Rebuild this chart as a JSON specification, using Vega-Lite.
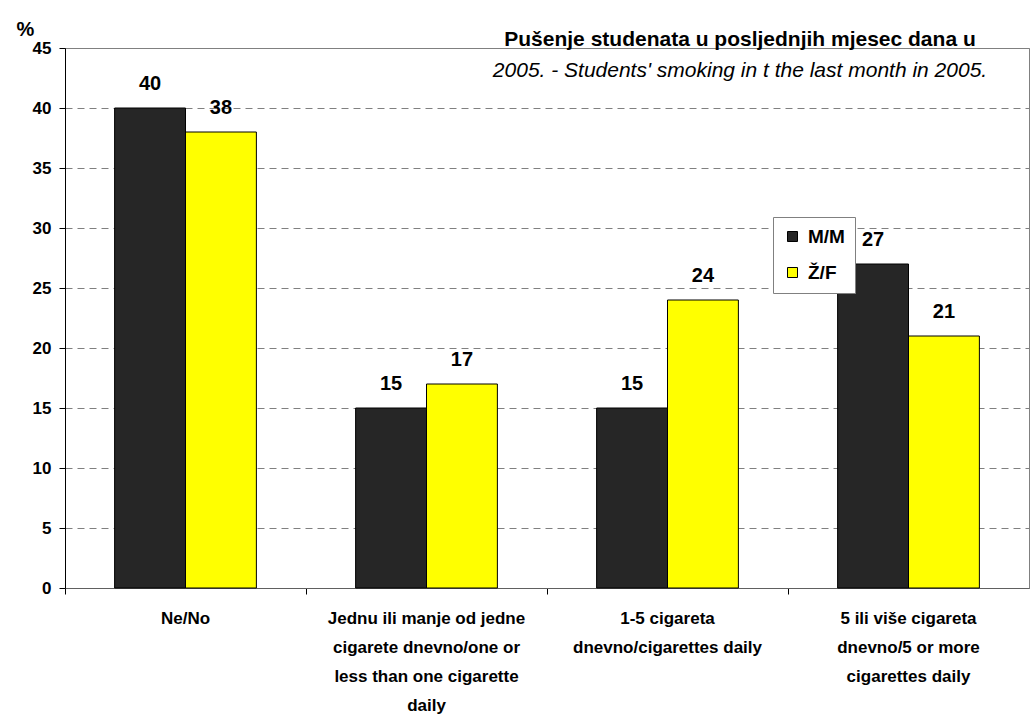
{
  "$schema": "https://vega.github.io/schema/vega-lite/v6.json",
  "width": 964,
  "height": 540,
  "autosize": {"type": "none"},
  "padding": {"left": 65, "top": 48, "right": 2, "bottom": 127},
  "background": "white",
  "config": {
    "font": "Liberation Sans",
    "view": {"stroke": "#808080", "strokeWidth": 1}
  },
  "title": {
    "text": "Pušenje studenata u posljednjih mjesec dana u",
    "subtitle": "2005. - Students' smoking in t the last month in 2005.",
    "anchor": "middle",
    "frame": "group",
    "orient": "top",
    "dx": 193,
    "dy": 66,
    "fontSize": 21,
    "fontWeight": "bold",
    "color": "black",
    "subtitleFontSize": 21,
    "subtitleFontStyle": "italic",
    "subtitleColor": "black",
    "subtitlePadding": 10
  },
  "data": {
    "values": [
      {"cat": "Ne/No", "sex": "M/M", "value": 40},
      {"cat": "Ne/No", "sex": "Ž/F", "value": 38},
      {"cat": "Jednu ili manje od jedne\ncigarete dnevno/one or\nless than one cigarette\ndaily", "sex": "M/M", "value": 15},
      {"cat": "Jednu ili manje od jedne\ncigarete dnevno/one or\nless than one cigarette\ndaily", "sex": "Ž/F", "value": 17},
      {"cat": "1-5 cigareta\ndnevno/cigarettes daily", "sex": "M/M", "value": 15},
      {"cat": "1-5 cigareta\ndnevno/cigarettes daily", "sex": "Ž/F", "value": 24},
      {"cat": "5 ili više cigareta\ndnevno/5 or more\ncigarettes daily", "sex": "M/M", "value": 27},
      {"cat": "5 ili više cigareta\ndnevno/5 or more\ncigarettes daily", "sex": "Ž/F", "value": 21}
    ]
  },
  "encoding": {
    "x": {
      "field": "cat",
      "type": "nominal",
      "sort": null,
      "scale": {"paddingInner": 0, "paddingOuter": 0},
      "axis": {
        "title": null,
        "labelAngle": 0,
        "labelExpr": "split(datum.label, '\\n')",
        "labelFontSize": 17,
        "labelFontWeight": "bold",
        "labelColor": "black",
        "labelLineHeight": 29,
        "labelPadding": 16,
        "labelLimit": 300,
        "bandPosition": 0,
        "tickSize": 6,
        "tickColor": "black",
        "domainColor": "#606060",
        "grid": false
      }
    },
    "xOffset": {
      "field": "sex",
      "type": "nominal",
      "scale": {"domain": ["M/M", "Ž/F"], "paddingInner": 0, "paddingOuter": 0.7}
    },
    "y": {
      "field": "value",
      "type": "quantitative",
      "scale": {"domain": [0, 45], "nice": false},
      "axis": {
        "title": "%",
        "titleAngle": 0,
        "titleX": -40,
        "titleY": -19,
        "titleAlign": "center",
        "titleBaseline": "middle",
        "titleFontSize": 20,
        "titleFontWeight": "bold",
        "titleColor": "black",
        "values": [0, 5, 10, 15, 20, 25, 30, 35, 40, 45],
        "labelFontSize": 17,
        "labelFontWeight": "bold",
        "labelColor": "black",
        "labelPadding": 8,
        "tickSize": 6,
        "tickColor": "black",
        "domainColor": "black",
        "grid": true,
        "gridColor": "#808080",
        "gridDash": [7, 5]
      }
    }
  },
  "layer": [
    {
      "mark": {"type": "bar", "stroke": "black", "strokeWidth": 1},
      "encoding": {
        "color": {
          "field": "sex",
          "type": "nominal",
          "scale": {"domain": ["M/M", "Ž/F"], "range": ["#262626", "#ffff00"]},
          "legend": {
            "title": null,
            "orient": "none",
            "legendX": 708,
            "legendY": 169,
            "fillColor": "white",
            "strokeColor": "#808080",
            "padding": 10,
            "rowPadding": 16,
            "symbolType": "square",
            "symbolSize": 100,
            "symbolStrokeColor": "black",
            "symbolStrokeWidth": 1,
            "symbolOpacity": 1,
            "labelFontSize": 19,
            "labelFontWeight": "bold",
            "labelColor": "black",
            "labelOffset": 6
          }
        }
      }
    },
    {
      "mark": {"type": "text", "baseline": "alphabetic", "dy": -18, "fontSize": 20, "fontWeight": "bold", "color": "black"},
      "encoding": {
        "text": {"field": "value", "type": "quantitative"}
      }
    }
  ]
}
